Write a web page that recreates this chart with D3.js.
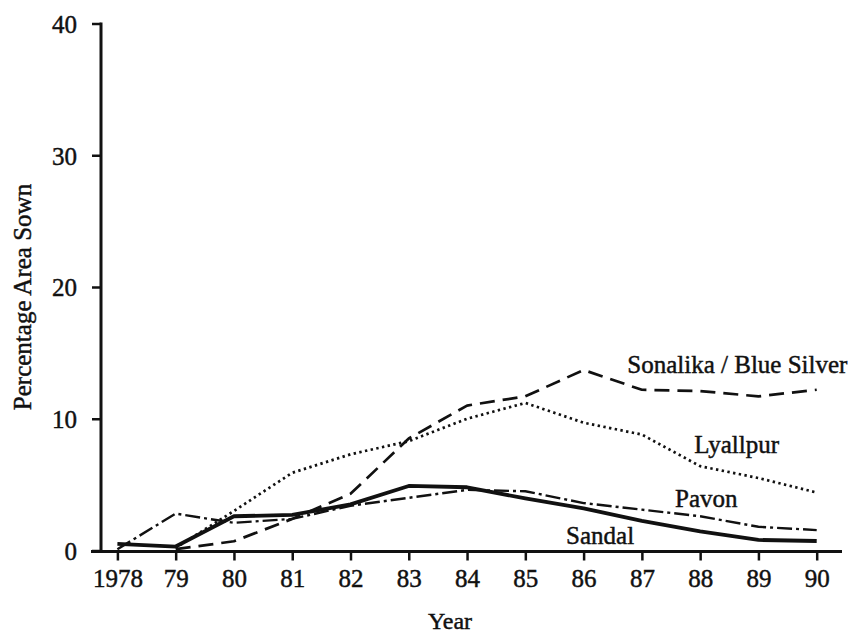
<!DOCTYPE html>
<html>
<head>
<meta charset="utf-8">
<script src="https://cdn.jsdelivr.net/npm/d3@7"></script>
</head>
<body style="margin:0;background:#fff">
<svg id="chart" width="855" height="634" style="display:block"></svg>
<script>
// values (percentage area sown)
const years = [1978, 1979, 1980, 1981, 1982, 1983, 1984, 1985, 1986, 1987, 1988, 1989, 1990];
const yearLabels = ['1978', '79', '80', '81', '82', '83', '84', '85', '86', '87', '88', '89', '90'];
const yTicks = [0, 10, 20, 30, 40];

const sonalika = [null, 0.1, 0.7, 2.4, 4.3, 8.5, 11.0, 11.7, 13.7, 12.2, 12.1, 11.7, 12.2];
const lyallpur = [null, 0.2, 3.0, 5.9, 7.3, 8.3, 10.0, 11.2, 9.7, 8.8, 6.4, 5.5, 4.4];
const pavon    = [0.1, 2.8, 2.1, 2.4, 3.4, 4.0, 4.6, 4.5, 3.6, 3.1, 2.6, 1.8, 1.55];
const sandal   = [0.5, 0.3, 2.6, 2.7, 3.5, 4.9, 4.8, 3.95, 3.2, 2.25, 1.45, 0.8, 0.72];

const seriesNames = ['Sonalika / Blue Silver', 'Lyallpur', 'Pavon', 'Sandal'];
// label anchor (year, value) where each name sits
const labelYears  = [1986.75, 1987.9, 1987.57, 1985.7];
const labelValues = [13.5, 7.4, 3.3, 0.5];

const FONT = "Liberation Serif";
const INK = '#111';

const svg = d3.select('#chart');

const x = d3.scaleLinear().domain([1978, 1990]).range([117.4, 816.7]);
const y = d3.scaleLinear().domain([0, 40]).range([550.5, 23.5]);

// scanned print looks a touch heavier than the plain font
function inky(sel) {
  sel.attr('fill', INK).attr('stroke', INK).attr('stroke-width', 0.45);
}

// axes
const xAxis = d3.axisBottom(x)
  .tickValues(years)
  .tickFormat((d, i) => yearLabels[i])
  .tickSize(10)
  .tickPadding(10);

const gx = svg.append('g')
  .attr('transform', `translate(0,${y(0)})`)
  .call(xAxis)
  .attr('font-family', FONT)
  .attr('font-size', 25);
gx.select('.domain').remove();
gx.selectAll('.tick line').attr('stroke', INK).attr('stroke-width', 2.5);
gx.selectAll('.tick text')
  .attr('y', 36)
  .attr('dy', 0)
  .call(inky);

const yAxis = d3.axisLeft(y)
  .tickValues(yTicks)
  .tickSize(9)
  .tickPadding(15);

const gy = svg.append('g')
  .attr('transform', `translate(101,0)`)
  .call(yAxis)
  .attr('font-family', FONT)
  .attr('font-size', 25);
gy.select('.domain').remove();
gy.selectAll('.tick line').attr('stroke', INK).attr('stroke-width', 2.5);
gy.selectAll('.tick text')
  .attr('dy', '0.35em')
  .call(inky);

// axis lines
svg.append('line')
  .attr('x1', 91).attr('x2', 842)
  .attr('y1', y(0) + 1).attr('y2', y(0) + 1)
  .attr('stroke', INK).attr('stroke-width', 3);
svg.append('line')
  .attr('x1', 101).attr('x2', 101)
  .attr('y1', y(40) - 1).attr('y2', y(0) + 1)
  .attr('stroke', INK).attr('stroke-width', 3);

// axis titles
svg.append('text')
  .attr('transform', 'translate(31,297) rotate(-90)')
  .attr('text-anchor', 'middle')
  .attr('font-family', FONT)
  .attr('font-size', 25)
  .call(inky)
  .text('Percentage Area Sown');

svg.append('text')
  .attr('x', 450).attr('y', 629)
  .attr('text-anchor', 'middle')
  .attr('font-family', FONT)
  .attr('font-size', 24)
  .call(inky)
  .text('Year');

// lines
const line = d3.line()
  .defined(d => d[1] != null)
  .x(d => x(d[0]))
  .y(d => y(d[1]));

const series = [
  { values: sonalika, dash: '15,8', width: 2.7 },
  { values: lyallpur, dash: '2.4,3.4', width: 2.7 },
  { values: pavon, dash: '15,4,3,4', width: 2.4 },
  { values: sandal, dash: null, width: 3.8 }
];

series.forEach(s => {
  svg.append('path')
    .datum(years.map((yr, i) => [yr, s.values[i]]))
    .attr('d', line)
    .attr('fill', 'none')
    .attr('stroke', INK)
    .attr('stroke-width', s.width)
    .attr('stroke-dasharray', s.dash)
    .attr('stroke-linejoin', 'round');
});

// series labels
svg.selectAll('.series-label')
  .data(seriesNames)
  .enter().append('text')
  .attr('class', 'series-label')
  .attr('x', (d, i) => x(labelYears[i]))
  .attr('y', (d, i) => y(labelValues[i]))
  .attr('font-family', FONT)
  .attr('font-size', 25)
  .call(inky)
  .text(d => d);
</script>
</body>
</html>
